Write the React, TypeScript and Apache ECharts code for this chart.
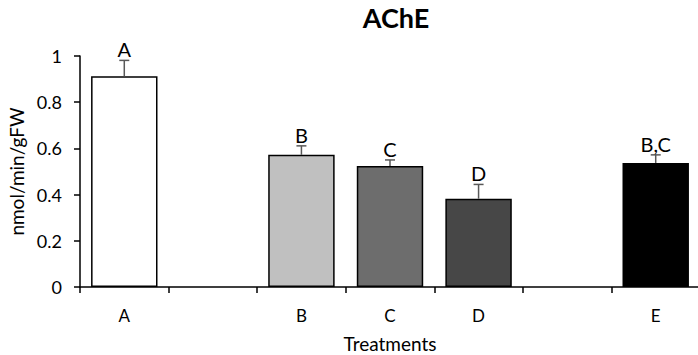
import React, { useEffect, useRef } from "react";
import * as echarts from "echarts";

// Treatment slots along the x axis; blank slots are spacers between groups
const categories = ["A", "", "B", "C", "D", "", "E"];
const means: (number | null)[] = [0.912, null, 0.572, 0.524, 0.382, null, 0.537];
const errors: (number | null)[] = [0.069, null, 0.039, 0.026, 0.062, null, 0.035];
const letters: (string | null)[] = ["A", null, "B", "C", "D", null, "B,C"];
const barColors = ["#ffffff", "#ffffff", "#c0c0c0", "#6d6d6d", "#474747", "#ffffff", "#000000"];
const yTicks = [0, 0.2, 0.4, 0.6, 0.8, 1];

const FONT = "Lato";

export default function App() {
  const ref = useRef<HTMLDivElement>(null);

  useEffect(() => {
    if (!ref.current) return;
    const chart = echarts.init(ref.current, null, { renderer: "svg" });

    const errData = means
      .map((m, i) => (m == null ? null : [i, m, errors[i], letters[i]]))
      .filter((d) => d != null);

    chart.setOption({
      animation: false,
      backgroundColor: "#ffffff",
      title: {
        text: "AChE",
        left: 391,
        textAlign: "center",
        top: -1,
        textStyle: { fontFamily: FONT, fontWeight: "bold", fontSize: 27, color: "#000" },
      },
      grid: { left: 80, width: 620, top: 56, height: 231, outerBoundsMode: "none", containLabel: false },
      xAxis: {
        type: "category",
        data: categories,
        name: "Treatments",
        nameLocation: "middle",
        nameGap: 47,
        nameTextStyle: { fontFamily: FONT, fontSize: 19, color: "#000" },
        axisLine: { lineStyle: { color: "#000", width: 1.5 } },
        axisTick: { show: true, alignWithLabel: false, interval: 0, length: 6, lineStyle: { color: "#000", width: 1.5 } },
        axisLabel: { interval: 0, margin: 20, fontFamily: FONT, fontSize: 17, color: "#000" },
      },
      yAxis: {
        type: "value",
        min: 0,
        max: 1,
        interval: 0.2,
        name: "nmol/min/gFW",
        nameLocation: "middle",
        nameGap: 50,
        nameTextStyle: { fontFamily: FONT, fontSize: 19, color: "#000" },
        axisLine: { show: true, lineStyle: { color: "#000", width: 1.5 } },
        axisTick: { show: true, length: 6, lineStyle: { color: "#000", width: 1.5 } },
        splitLine: { show: false },
        axisLabel: {
          fontFamily: FONT,
          fontSize: 18,
          color: "#000",
          margin: 18,
          formatter: (v: number) => (yTicks.includes(Math.round(v * 10) / 10) ? String(Math.round(v * 10) / 10) : ""),
        },
      },
      series: [
        {
          type: "bar",
          barWidth: "75%",
          data: means.map((m, i) =>
            m == null
              ? "-"
              : { value: m, itemStyle: { color: barColors[i], borderColor: "#000", borderWidth: 1.5 } }
          ),
          z: 2,
        },
        {
          type: "custom",
          z: 3,
          data: errData,
          renderItem: (_params: any, api: any) => {
            const i = api.value(0);
            const m = api.value(1);
            const e = api.value(2);
            const label = letters[i] as string;
            const base = api.coord([i, m]);
            const top = api.coord([i, m + e]);
            const cap = 5;
            return {
              type: "group",
              children: [
                {
                  type: "line",
                  shape: { x1: base[0], y1: base[1], x2: top[0], y2: top[1] },
                  style: { stroke: "#595959", lineWidth: 1.5 },
                },
                {
                  type: "line",
                  shape: { x1: top[0] - cap, y1: top[1], x2: top[0] + cap, y2: top[1] },
                  style: { stroke: "#595959", lineWidth: 1.5 },
                },
                {
                  type: "text",
                  style: {
                    text: label,
                    x: top[0],
                    y: top[1] - 1,
                    textAlign: "center",
                    textVerticalAlign: "bottom",
                    fontFamily: FONT,
                    fontSize: 20,
                    fill: "#000",
                  },
                },
              ],
            };
          },
        },
      ],
    });

    return () => chart.dispose();
  }, []);

  return <div ref={ref} style={{ width: 698, height: 355, position: "absolute", left: 0, top: 0 }} />;
}
